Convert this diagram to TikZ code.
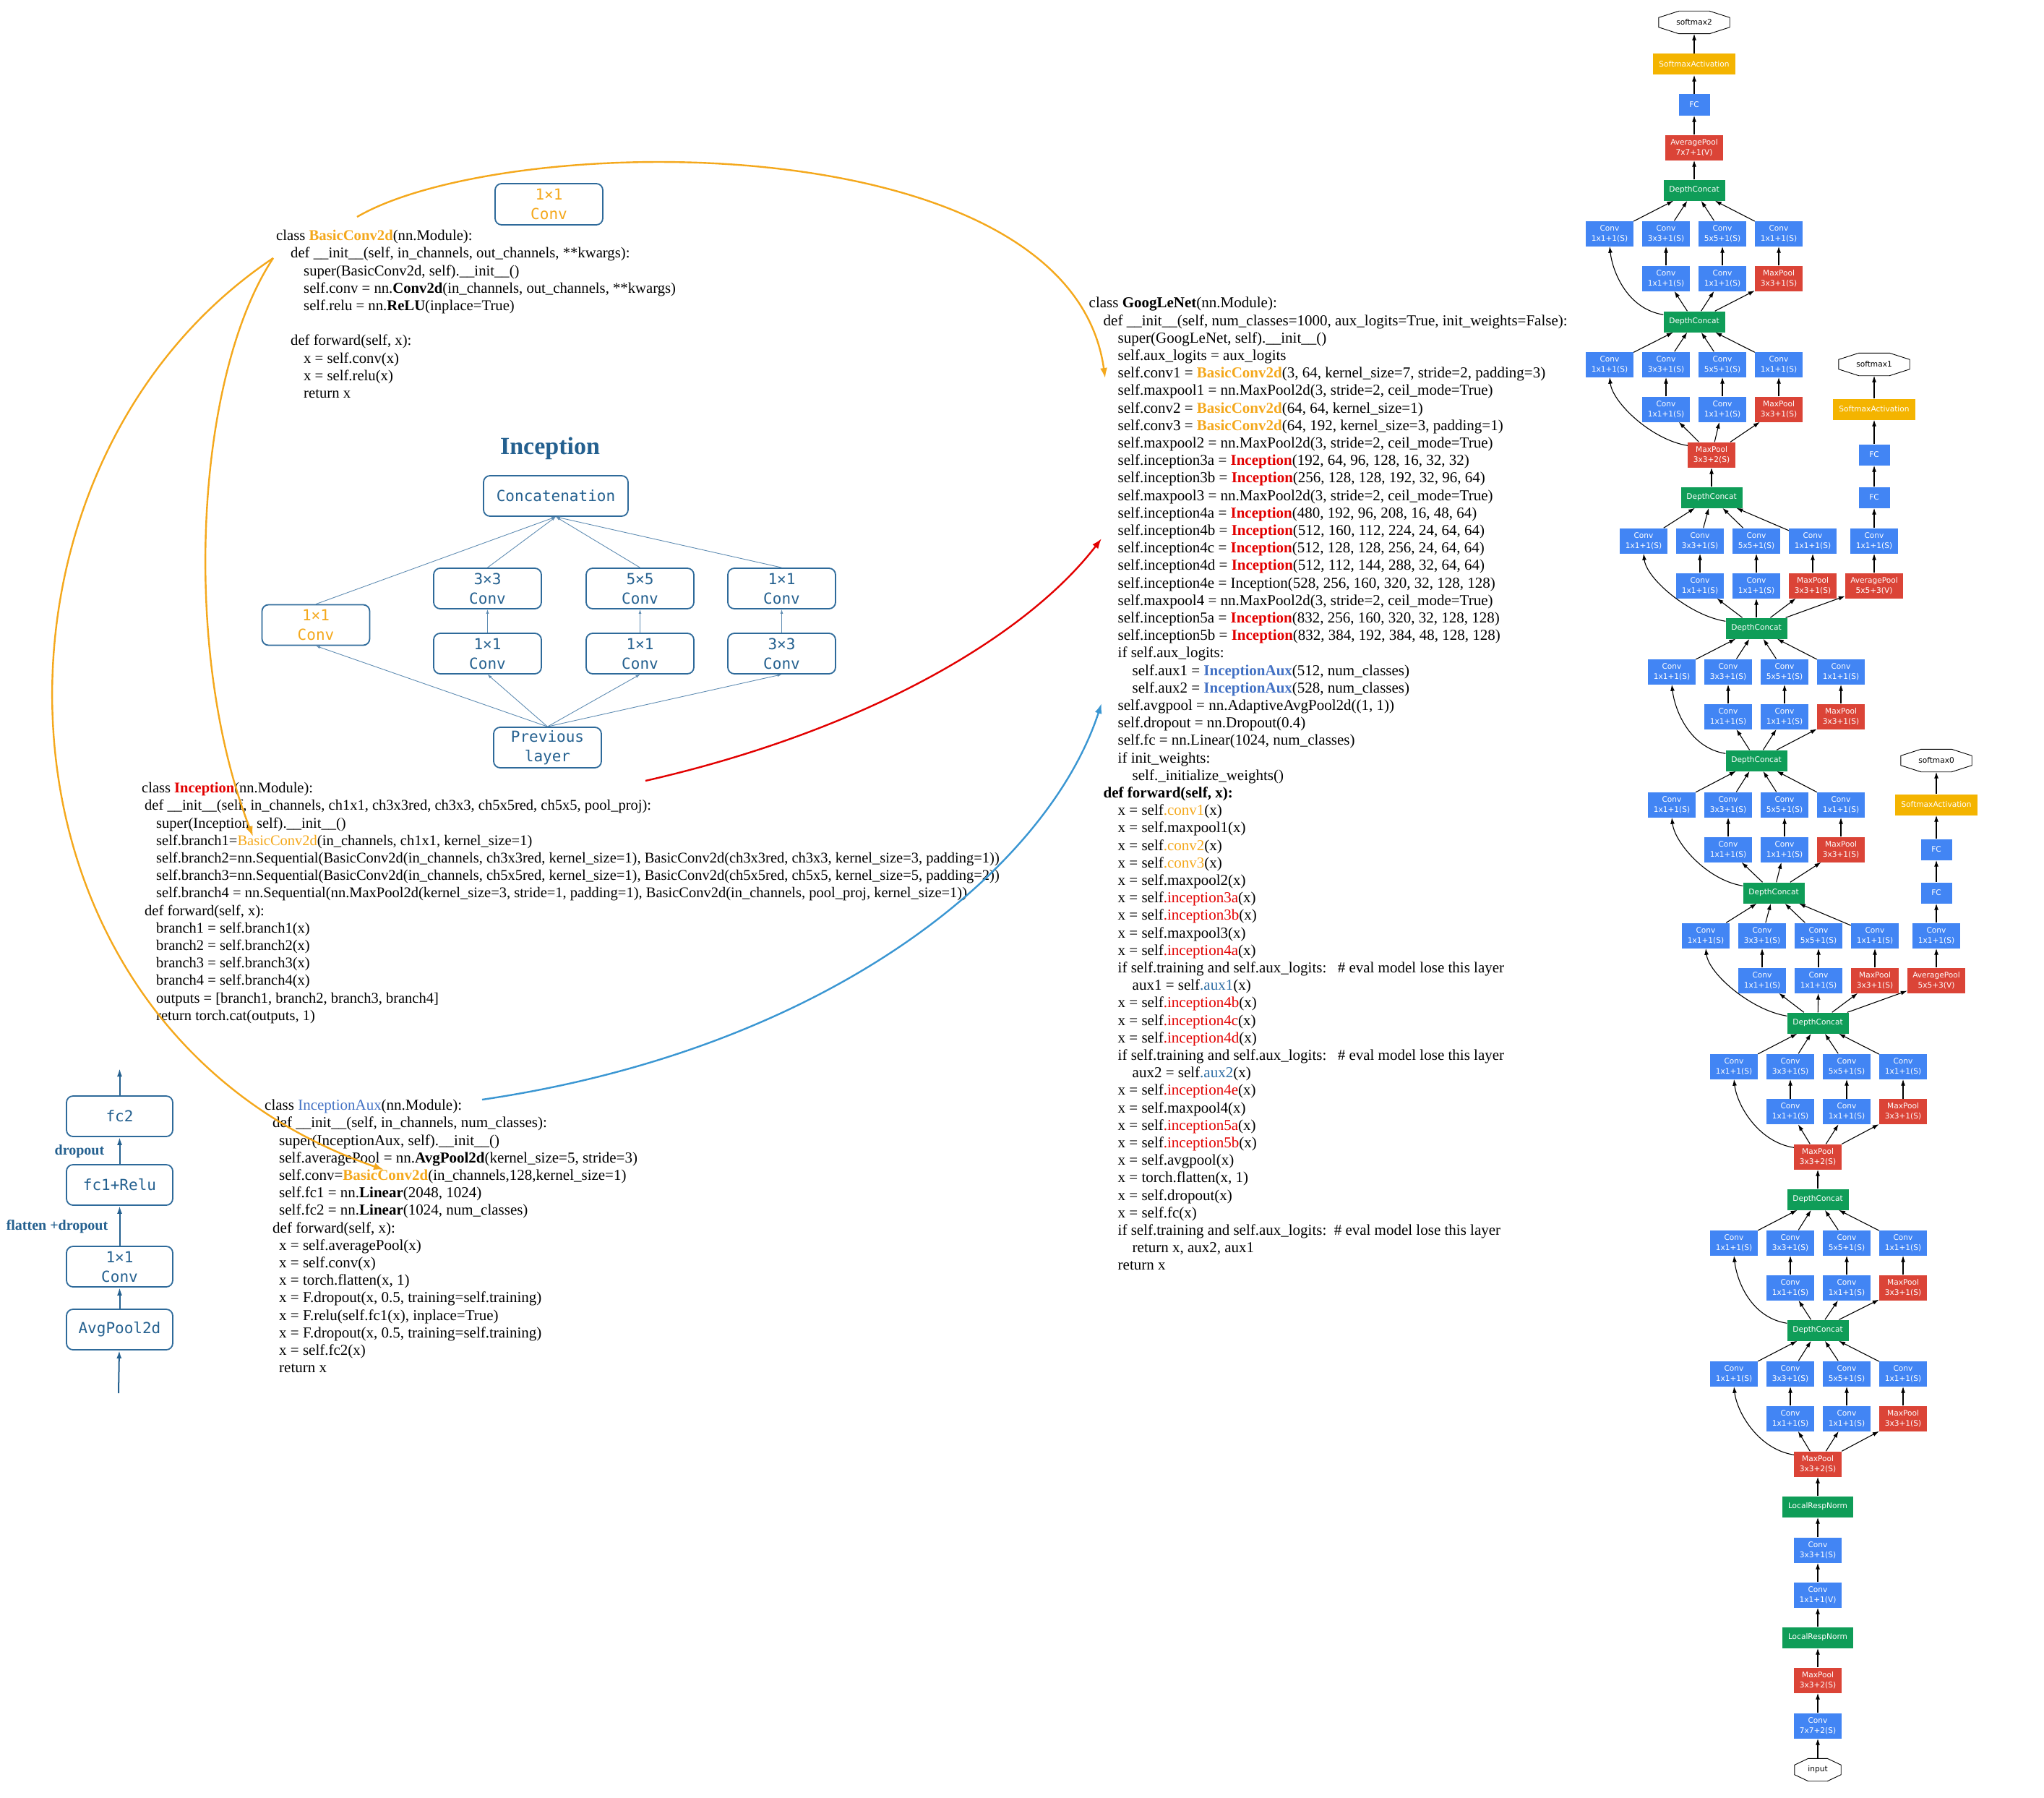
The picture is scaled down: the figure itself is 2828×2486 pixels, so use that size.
\documentclass[tikz,border=0pt]{standalone}
\usepackage{fontspec}
\setmainfont{Liberation Serif}
\newfontfamily\monofont{DejaVu Sans Mono}
\newfontfamily\netfont{DejaVu Sans}
\usetikzlibrary{arrows.meta,calc}

\definecolor{gblue}{RGB}{66,133,244}
\definecolor{gred}{RGB}{219,68,55}
\definecolor{ggreen}{RGB}{15,157,88}
\definecolor{gyellow}{RGB}{244,180,0}
\definecolor{boxline}{RGB}{46,106,154}
\definecolor{boxtext}{RGB}{36,96,143}
\definecolor{thinline}{RGB}{95,140,178}
\definecolor{orng}{RGB}{244,168,28}
\definecolor{codered}{RGB}{226,0,0}
\definecolor{auxblue}{RGB}{68,114,196}
\definecolor{steel}{RGB}{46,109,164}
\definecolor{curveblue}{RGB}{58,150,210}

\newcommand\codefont{\fontsize{21}{24.2}\selectfont}
\newcommand\cs{\rule{0pt}{16pt}}
\newcommand\indentby[1]{\hspace*{#1pt}}
\newcommand\evalnote[1]{\makebox[#1pt][l]{if self.training and self.aux\_logits:}\# eval model lose this layer}

\tikzset{
  rbox/.style={draw=boxline, line width=1.8pt, rounded corners=9pt, minimum width=149pt, minimum height=56pt, inner sep=0pt, align=center, text=boxtext, font=\monofont\fontsize{21}{27}\selectfont},
  code/.style={anchor=north west, inner sep=0pt, align=left, font=\codefont},
  netbox/.style={minimum width=66pt, minimum height=35pt, inner sep=0pt, align=center, text=white, font=\netfont\fontsize{10.6}{14}\selectfont},
  conv/.style={netbox, fill=gblue},
  pool/.style={netbox, fill=gred},
  cat/.style={netbox, fill=ggreen, minimum width=85pt, minimum height=29pt},
  lrn/.style={cat, minimum width=98pt},
  fc/.style={netbox, fill=gblue, minimum width=43pt, minimum height=29pt},
  act/.style={netbox, fill=gyellow, minimum width=114pt, minimum height=29pt},
  oct/.style={minimum width=98pt, minimum height=31pt, inner sep=0pt, font=\netfont\fontsize{10.6}{14}\selectfont},
  netarr/.style={-{Latex[length=9pt,width=6pt]}, line width=1.1pt},
  thinarr/.style={-{Latex[length=6pt,width=4pt]}, draw=thinline, line width=0.9pt},
  auxarr/.style={-{Latex[length=11pt,width=7pt]}, draw=boxtext, line width=2pt},
  link/.style={-{Latex[length=14pt,width=10pt]}, line width=2.4pt}
}

% one inception block of the graph: name, input node, x of first column, y of lower row, y of upper row, concat position
\newcommand\incmod[6]{%
  \foreach \i/\k in {1/1x1,2/3x3,3/5x5,4/1x1}
    \node[conv] (#1a\i) at ({#3+78*(\i-1)},#5) {Conv\\\k+1(S)};
  \foreach \i in {2,3}
    \node[conv] (#1b\i) at ({#3+78*(\i-1)},#4) {Conv\\1x1+1(S)};
  \node[pool] (#1b4) at ({#3+234},#4) {MaxPool\\3x3+1(S)};
  \node[cat] (#1) at (#6) {DepthConcat};
  \draw[netarr] ([yshift=-5pt]#2.north west) .. controls +(-50,-8) and +(4,35) .. (#1a1.south);
  \foreach \i in {2,3,4} {
    \draw[netarr] (#2) -- (#1b\i);
    \draw[netarr] (#1b\i) -- (#1a\i);
  }
  \foreach \i in {1,...,4}
    \draw[netarr] (#1a\i) -- (#1);
}

\begin{document}
\begin{tikzpicture}[x=1pt,y=-1pt]
\useasboundingbox (0,0) rectangle (2828,2486);

% BasicConv2d
\node[rbox, text=orng, minimum height=57pt] (convKey) at (759.5,282.5) {1×1\\Conv};
\node[code, font=\fontsize{20.7}{24.2}\selectfont] (bcCode) at (382,316.4) {\cs class \textcolor{orng}{\textbf{BasicConv2d}}(nn.Module):\\
\indentby{20}def \_\_init\_\_(self, in\_channels, out\_channels, **kwargs):\\
\indentby{38}super(BasicConv2d, self).\_\_init\_\_()\\
\indentby{38}self.conv = nn.\textbf{Conv2d}(in\_channels, out\_channels, **kwargs)\\
\indentby{38}self.relu = nn.\textbf{ReLU}(inplace=True)\\
\mbox{}\\
\indentby{20}def forward(self, x):\\
\indentby{38}x = self.conv(x)\\
\indentby{38}x = self.relu(x)\\
\indentby{38}return x};

% Inception block
\node[text=boxtext, font=\bfseries\fontsize{34}{40}\selectfont] (incTitle) at (761,620) {Inception};
\node[rbox, minimum width=200pt] (concat) at (769,686) {Concatenation};
\node[rbox, text=orng] (b1) at (437,864.5) {1×1\\Conv};
\node[rbox] (hi2) at (674.5,814) {3×3\\Conv};
\node[rbox] (hi3) at (885.5,814) {5×5\\Conv};
\node[rbox] (hi4) at (1081.5,814) {1×1\\Conv};
\node[rbox] (lo2) at (674.5,904) {1×1\\Conv};
\node[rbox] (lo3) at (885.5,904) {1×1\\Conv};
\node[rbox] (lo4) at (1081.5,904) {3×3\\Conv};
\node[rbox] (prev) at (757.5,1034) {Previous\\layer};
\foreach \t in {b1,lo2,lo3,lo4}
  \draw[thinarr] (prev.north) -- (\t.south);
\foreach \i in {2,3,4}
  \draw[thinarr] (lo\i.north) -- (hi\i.south);
\foreach \t in {b1,hi2,hi3,hi4}
  \draw[thinarr] (\t.north) -- (concat.south);

\node[code, font=\fontsize{20.5}{24.2}\selectfont] (incCode) at (196,1080.4) {\cs class \textcolor{codered}{\textbf{Inception}}(nn.Module):\\
\indentby{4}def \_\_init\_\_(self, in\_channels, ch1x1, ch3x3red, ch3x3, ch5x5red, ch5x5, pool\_proj):\\
\indentby{20}super(Inception, self).\_\_init\_\_()\\
\indentby{20}self.branch1=\textcolor{orng}{BasicConv2d}(in\_channels, ch1x1, kernel\_size=1)\\
\indentby{20}self.branch2=nn.Sequential(BasicConv2d(in\_channels, ch3x3red, kernel\_size=1), BasicConv2d(ch3x3red, ch3x3, kernel\_size=3, padding=1))\\
\indentby{20}self.branch3=nn.Sequential(BasicConv2d(in\_channels, ch5x5red, kernel\_size=1), BasicConv2d(ch5x5red, ch5x5, kernel\_size=5, padding=2))\\
\indentby{20}self.branch4 = nn.Sequential(nn.MaxPool2d(kernel\_size=3, stride=1, padding=1), BasicConv2d(in\_channels, pool\_proj, kernel\_size=1))\\
\indentby{4}def forward(self, x):\\
\indentby{20}branch1 = self.branch1(x)\\
\indentby{20}branch2 = self.branch2(x)\\
\indentby{20}branch3 = self.branch3(x)\\
\indentby{20}branch4 = self.branch4(x)\\
\indentby{20}outputs = [branch1, branch2, branch3, branch4]\\
\indentby{20}return torch.cat(outputs, 1)};

% InceptionAux
\node[rbox, minimum width=147pt] (avgp) at (165.5,1839) {AvgPool2d};
\node[rbox, minimum width=147pt] (auxconv) at (165.5,1752) {1×1\\Conv};
\node[rbox, minimum width=147pt] (fcA) at (165.5,1639) {fc1+Relu};
\node[rbox, minimum width=147pt] (fcB) at (165.5,1544) {fc2};
\coordinate (auxIn) at (164,1927);
\coordinate (auxOut) at (165.5,1478);
\draw[auxarr] (auxIn) -- (avgp);
\draw[auxarr] (avgp) -- (auxconv);
\draw[auxarr] (auxconv) -- (fcA);
\draw[auxarr] (fcA) -- (fcB);
\draw[auxarr] (fcB) -- (auxOut);
\node[text=boxtext, font=\bfseries\fontsize{20}{24}\selectfont] (dropLbl) at (110,1593) {dropout};
\node[text=boxtext, font=\bfseries\fontsize{20}{24}\selectfont] (flatLbl) at (79,1697) {flatten +dropout};

\node[code] (auxCode) at (366,1519.4) {\cs class \textcolor{auxblue}{InceptionAux}(nn.Module):\\
\indentby{11}def \_\_init\_\_(self, in\_channels, num\_classes):\\
\indentby{20}super(InceptionAux, self).\_\_init\_\_()\\
\indentby{20}self.averagePool = nn.\textbf{AvgPool2d}(kernel\_size=5, stride=3)\\
\indentby{20}self.conv=\textcolor{orng}{\textbf{BasicConv2d}}(in\_channels,128,kernel\_size=1)\\
\indentby{20}self.fc1 = nn.\textbf{Linear}(2048, 1024)\\
\indentby{20}self.fc2 = nn.\textbf{Linear}(1024, num\_classes)\\
\indentby{11}def forward(self, x):\\
\indentby{20}x = self.averagePool(x)\\
\indentby{20}x = self.conv(x)\\
\indentby{20}x = torch.flatten(x, 1)\\
\indentby{20}x = F.dropout(x, 0.5, training=self.training)\\
\indentby{20}x = F.relu(self.fc1(x), inplace=True)\\
\indentby{20}x = F.dropout(x, 0.5, training=self.training)\\
\indentby{20}x = self.fc2(x)\\
\indentby{20}return x};

% GoogLeNet
\node[code] (gnCode) at (1506.5,409.7) {\cs class \textbf{GoogLeNet}(nn.Module):\\
\indentby{20}def \_\_init\_\_(self, num\_classes=1000, aux\_logits=True, init\_weights=False):\\
\indentby{40}super(GoogLeNet, self).\_\_init\_\_()\\
\indentby{40}self.aux\_logits = aux\_logits\\
\indentby{40}self.conv1 = \textcolor{orng}{\textbf{BasicConv2d}}(3, 64, kernel\_size=7, stride=2, padding=3)\\
\indentby{40}self.maxpool1 = nn.MaxPool2d(3, stride=2, ceil\_mode=True)\\
\indentby{40}self.conv2 = \textcolor{orng}{\textbf{BasicConv2d}}(64, 64, kernel\_size=1)\\
\indentby{40}self.conv3 = \textcolor{orng}{\textbf{BasicConv2d}}(64, 192, kernel\_size=3, padding=1)\\
\indentby{40}self.maxpool2 = nn.MaxPool2d(3, stride=2, ceil\_mode=True)\\
\indentby{40}self.inception3a = \textcolor{codered}{\textbf{Inception}}(192, 64, 96, 128, 16, 32, 32)\\
\indentby{40}self.inception3b = \textcolor{codered}{\textbf{Inception}}(256, 128, 128, 192, 32, 96, 64)\\
\indentby{40}self.maxpool3 = nn.MaxPool2d(3, stride=2, ceil\_mode=True)\\
\indentby{40}self.inception4a = \textcolor{codered}{\textbf{Inception}}(480, 192, 96, 208, 16, 48, 64)\\
\indentby{40}self.inception4b = \textcolor{codered}{\textbf{Inception}}(512, 160, 112, 224, 24, 64, 64)\\
\indentby{40}self.inception4c = \textcolor{codered}{\textbf{Inception}}(512, 128, 128, 256, 24, 64, 64)\\
\indentby{40}self.inception4d = \textcolor{codered}{\textbf{Inception}}(512, 112, 144, 288, 32, 64, 64)\\
\indentby{40}self.inception4e = Inception(528, 256, 160, 320, 32, 128, 128)\\
\indentby{40}self.maxpool4 = nn.MaxPool2d(3, stride=2, ceil\_mode=True)\\
\indentby{40}self.inception5a = \textcolor{codered}{\textbf{Inception}}(832, 256, 160, 320, 32, 128, 128)\\
\indentby{40}self.inception5b = \textcolor{codered}{\textbf{Inception}}(832, 384, 192, 384, 48, 128, 128)\\
\indentby{40}if self.aux\_logits:\\
\indentby{60}self.aux1 = \textcolor{auxblue}{\textbf{InceptionAux}}(512, num\_classes)\\
\indentby{60}self.aux2 = \textcolor{auxblue}{\textbf{InceptionAux}}(528, num\_classes)\\
\indentby{40}self.avgpool = nn.AdaptiveAvgPool2d((1, 1))\\
\indentby{40}self.dropout = nn.Dropout(0.4)\\
\indentby{40}self.fc = nn.Linear(1024, num\_classes)\\
\indentby{40}if init\_weights:\\
\indentby{60}self.\_initialize\_weights()\\
\indentby{20}\textbf{def forward(self, x):}\\
\indentby{40}x = self\textcolor{orng}{.conv1}(x)\\
\indentby{40}x = self.maxpool1(x)\\
\indentby{40}x = self\textcolor{orng}{.conv2}(x)\\
\indentby{40}x = self\textcolor{orng}{.conv3}(x)\\
\indentby{40}x = self.maxpool2(x)\\
\indentby{40}x = self\textcolor{codered}{.inception3a}(x)\\
\indentby{40}x = self\textcolor{codered}{.inception3b}(x)\\
\indentby{40}x = self.maxpool3(x)\\
\indentby{40}x = self\textcolor{codered}{.inception4a}(x)\\
\indentby{40}\evalnote{304}\\
\indentby{60}aux1 = self\textcolor{steel}{.aux1}(x)\\
\indentby{40}x = self\textcolor{codered}{.inception4b}(x)\\
\indentby{40}x = self\textcolor{codered}{.inception4c}(x)\\
\indentby{40}x = self\textcolor{codered}{.inception4d}(x)\\
\indentby{40}\evalnote{304}\\
\indentby{60}aux2 = self\textcolor{steel}{.aux2}(x)\\
\indentby{40}x = self\textcolor{codered}{.inception4e}(x)\\
\indentby{40}x = self.maxpool4(x)\\
\indentby{40}x = self\textcolor{codered}{.inception5a}(x)\\
\indentby{40}x = self\textcolor{codered}{.inception5b}(x)\\
\indentby{40}x = self.avgpool(x)\\
\indentby{40}x = torch.flatten(x, 1)\\
\indentby{40}x = self.dropout(x)\\
\indentby{40}x = self.fc(x)\\
\indentby{40}\evalnote{299}\\
\indentby{60}return x, aux2, aux1\\
\indentby{40}return x};

% links between the code blocks
\coordinate (bcTop) at (494,300);
\coordinate (bcSide) at (378,357);
\coordinate (gnConv) at (1529,523);
\coordinate (incUse) at (350,1157);
\coordinate (auxUse) at (531,1618);
\coordinate (incDef) at (893,1080);
\coordinate (gnInc) at (1524,745);
\coordinate (auxDef) at (667,1521);
\coordinate (gnAux) at (1524,973);
\draw[link, orng] (bcTop) .. controls (700,180) and (1480,170) .. (gnConv);
\draw[link, orng] (bcSide) .. controls (270,520) and (250,900) .. (incUse);
\draw[link, orng] (bcSide) .. controls (-60,650) and (-40,1420) .. (auxUse);
\draw[link, codered] (incDef) .. controls (1200,1010) and (1420,880) .. (gnInc);
\draw[link, curveblue] (auxDef) .. controls (1150,1450) and (1450,1200) .. (gnAux);

% network graph, stem
\node[oct, minimum width=64pt] (input) at (2515,2448) {input};
\node[conv] (conv7) at (2515,2387) {Conv\\7x7+2(S)};
\node[pool] (mp1) at (2515,2324) {MaxPool\\3x3+2(S)};
\node[lrn] (lrn1) at (2515,2265) {LocalRespNorm};
\node[conv] (conv1v) at (2515,2206) {Conv\\1x1+1(V)};
\node[conv] (conv3) at (2515,2144) {Conv\\3x3+1(S)};
\node[lrn] (lrn2) at (2515,2084) {LocalRespNorm};
\node[pool] (mp2) at (2515,2025) {MaxPool\\3x3+2(S)};
\foreach \a/\b in {input/conv7,conv7/mp1,mp1/lrn1,lrn1/conv1v,conv1v/conv3,conv3/lrn2,lrn2/mp2}
  \draw[netarr] (\a) -- (\b);

\incmod{dc3a}{mp2}{2399}{1962}{1900}{2515,1840}
\incmod{dc3b}{dc3a}{2399}{1781}{1719}{2515,1659}
\node[pool] (mp3) at (2515,1600) {MaxPool\\3x3+2(S)};
\draw[netarr] (dc3b) -- (mp3);
\incmod{dc4a}{mp3}{2399}{1537.5}{1475}{2515,1415}
\incmod{dc4b}{dc4a}{2360}{1356}{1294}{2454,1235}
\incmod{dc4c}{dc4b}{2313}{1175}{1113}{2430,1052}
\incmod{dc4d}{dc4c}{2313}{991}{929}{2430,869}
\incmod{dc4e}{dc4d}{2274}{810}{748}{2368,688}
\node[pool] (mp4) at (2368,629) {MaxPool\\3x3+2(S)};
\draw[netarr] (dc4e) -- (mp4);
\incmod{dc5a}{mp4}{2227}{566}{504}{2344,445}
\incmod{dc5b}{dc5a}{2227}{385}{323}{2344,263}

% heads
\node[pool, minimum width=80pt] (ap7) at (2344,204) {AveragePool\\7x7+1(V)};
\node[fc] (fcm) at (2344,145) {FC};
\node[act] (sam) at (2344,89) {SoftmaxActivation};
\node[oct] (sm2) at (2344,31) {softmax2};
\foreach \a/\b in {dc5b/ap7,ap7/fcm,fcm/sam,sam/sm2}
  \draw[netarr] (\a) -- (\b);

\node[pool, minimum width=80pt] (ap0) at (2679,1356) {AveragePool\\5x5+3(V)};
\node[conv] (cv0) at (2679,1294) {Conv\\1x1+1(S)};
\node[fc] (fa0) at (2679,1235) {FC};
\node[fc] (fb0) at (2679,1175) {FC};
\node[act] (sa0) at (2679,1113) {SoftmaxActivation};
\node[oct] (sm0) at (2679,1052) {softmax0};
\foreach \a/\b in {dc4a/ap0,ap0/cv0,cv0/fa0,fa0/fb0,fb0/sa0,sa0/sm0}
  \draw[netarr] (\a) -- (\b);

\node[pool, minimum width=80pt] (ap1) at (2593,810) {AveragePool\\5x5+3(V)};
\node[conv] (cv1) at (2593,748) {Conv\\1x1+1(S)};
\node[fc] (fa1) at (2593,688) {FC};
\node[fc] (fb1) at (2593,629) {FC};
\node[act] (sa1) at (2593,566) {SoftmaxActivation};
\node[oct] (sm1) at (2593,504) {softmax1};
\foreach \a/\b in {dc4d/ap1,ap1/cv1,cv1/fa1,fa1/fb1,fb1/sa1,sa1/sm1}
  \draw[netarr] (\a) -- (\b);

% octagon outlines
\foreach \n/\w in {input/19,sm0/28,sm1/28,sm2/28}
  \draw[line width=0.9pt] ($(\n.north west)+(\w,0)$) -- ($(\n.north east)+(-\w,0)$) -- ($(\n.north east)+(0,9)$) -- ($(\n.south east)+(0,-9)$) -- ($(\n.south east)+(-\w,0)$) -- ($(\n.south west)+(\w,0)$) -- ($(\n.south west)+(0,-9)$) -- ($(\n.north west)+(0,9)$) -- cycle;
\end{tikzpicture}
\end{document}
